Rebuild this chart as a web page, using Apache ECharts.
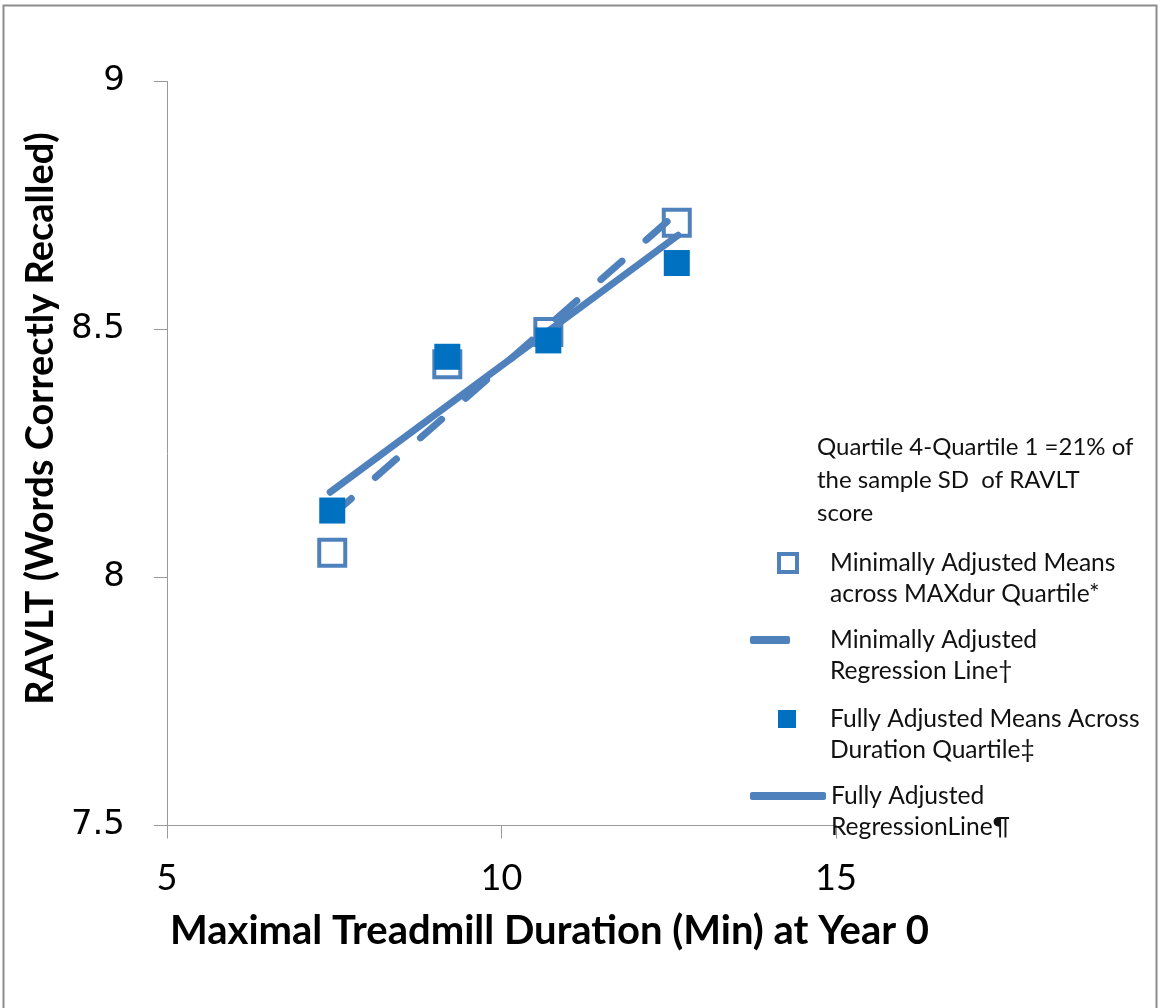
<!DOCTYPE html>
<html>
<head>
<meta charset="utf-8">
<script src="https://cdn.jsdelivr.net/npm/echarts@6/dist/echarts.min.js"></script>
<style>
  html, body { margin: 0; padding: 0; background: #fff; }
  #chart { width: 1160px; height: 1008px; }
</style>
</head>
<body>
<div id="chart"></div>
<script>

const quartileX = [7.47, 9.19, 10.70, 12.62];
const minMeans = [8.05, 8.43, 8.495, 8.715];
const fullMeans = [8.135, 8.445, 8.478, 8.634];

const lineX = [7.44, 12.64];
const minLine = [8.122, 8.737];
const fullLine = [8.172, 8.69];

const xTicks = [5, 10, 15];
const yTicks = [7.5, 8, 8.5, 9];

const names = [
    "Minimally Adjusted Means\nacross MAXdur Quartile*",
    "Minimally Adjusted\nRegression Line\u2020",
    "Fully Adjusted Means Across\nDuration Quartile\u2021",
    "Fully Adjusted\nRegressionLine\u00b6"
];
const note = "Quartile 4-Quartile 1 =21% of\nthe sample SD  of RAVLT\nscore";

const blue = "#4f81bd";
const darkBlue = "#0070c0";

function pairs(xs, ys) {
    return xs.map((x, i) => [x, ys[i]]);
}

var myChart = echarts.init(document.getElementById("chart"));

// one legend per entry so each can get its own icon size
// (blank first line keeps the icon level with the first text line)
function legendFor(name, left, centerY, w, h, icon, padLeft, itemStyle) {
    const lh = 31;
    return {
        data: [{ name: name, icon: icon, itemStyle: itemStyle }],
        formatter: n => "\n" + n,
        left: left,
        top: centerY - lh * 1.5,
        padding: 0,
        itemWidth: w,
        itemHeight: h,
        selectedMode: false,
        textStyle: {
            fontFamily: "Lato",
            fontSize: 24.6,
            color: "#111",
            lineHeight: lh,
            padding: [0, 0, 0, padLeft],
            backgroundColor: "rgba(255,255,255,0)"
        }
    };
}

var option = {
    animation: false,
    backgroundColor: "#fff",
    graphic: [
        {
            type: "rect",
            shape: { x: 3.5, y: 5.5, width: 1153, height: 1020 },
            style: { fill: "none", stroke: "#8c8c8c", lineWidth: 2 },
            silent: true
        }
    ],
    title: {
        text: note,
        left: 817,
        top: 431,
        padding: 0,
        textStyle: {
            fontFamily: "Lato",
            fontSize: 24,
            fontWeight: "normal",
            color: "#111",
            lineHeight: 33
        }
    },
    legend: [
        legendFor(names[0], 777, 563, 18, 18, "rect", 28,
            { color: "#fff", borderColor: blue, borderWidth: 4 }),
        legendFor(names[1], 750, 640, 40, 8, "roundRect", 35, { color: blue }),
        legendFor(names[2], 778, 719, 18, 18, "rect", 29, { color: darkBlue }),
        legendFor(names[3], 750, 796, 76, 8, "roundRect", 0, { color: blue })
    ],
    grid: {
        left: 167,
        right: 324,
        top: 81.5,
        bottom: 182.5
    },
    xAxis: {
        type: "value",
        min: xTicks[0],
        max: xTicks[xTicks.length - 1],
        interval: 5,
        splitLine: { show: false },
        axisLine: { lineStyle: { color: "#999", width: 1 } },
        axisTick: { length: 13, lineStyle: { color: "#999" } },
        axisLabel: {
            margin: 35,
            fontFamily: "Lato",
            fontSize: 36,
            color: "#000"
        },
        name: "Maximal Treadmill Duration (Min) at Year 0",
        nameLocation: "middle",
        nameGap: 86,
        nameTextStyle: {
            fontFamily: "Lato",
            fontWeight: "bold",
            fontSize: 40,
            color: "#000",
            padding: [0, 0, 0, 96]
        }
    },
    yAxis: {
        type: "value",
        min: yTicks[0],
        max: yTicks[yTicks.length - 1],
        interval: 0.5,
        splitLine: { show: false },
        axisLine: { show: true, lineStyle: { color: "#999", width: 1 } },
        axisTick: { show: true, length: 13, lineStyle: { color: "#999" } },
        axisLabel: {
            margin: 42,
            fontFamily: "DejaVu Sans",
            fontSize: 34,
            color: "#000"
        },
        name: "RAVLT (Words Correctly Recalled)",
        nameLocation: "middle",
        nameGap: 104,
        nameTextStyle: {
            fontFamily: "Lato",
            fontWeight: "bold",
            fontSize: 38,
            color: "#000",
            padding: [0, 0, 0, 70]
        }
    },
    series: [
        {
            name: names[0],
            type: "scatter",
            symbol: "rect",
            symbolSize: 26,
            z: 2,
            itemStyle: { color: "#fff", borderColor: blue, borderWidth: 4, opacity: 1 },
            data: pairs(quartileX, minMeans)
        },
        {
            name: names[1],
            type: "line",
            showSymbol: false,
            z: 3,
            itemStyle: { color: blue },
            lineStyle: { color: blue, width: 7, type: [28, 32], cap: "round" },
            data: pairs(lineX, minLine)
        },
        {
            name: names[3],
            type: "line",
            showSymbol: false,
            z: 4,
            itemStyle: { color: blue },
            lineStyle: { color: blue, width: 7, cap: "round" },
            data: pairs(lineX, fullLine)
        },
        {
            name: names[2],
            type: "scatter",
            symbol: "rect",
            symbolSize: 26,
            z: 5,
            itemStyle: { color: darkBlue, opacity: 1 },
            data: pairs(quartileX, fullMeans)
        }
    ]
};

option && myChart.setOption(option);
</script>
</body>
</html>
